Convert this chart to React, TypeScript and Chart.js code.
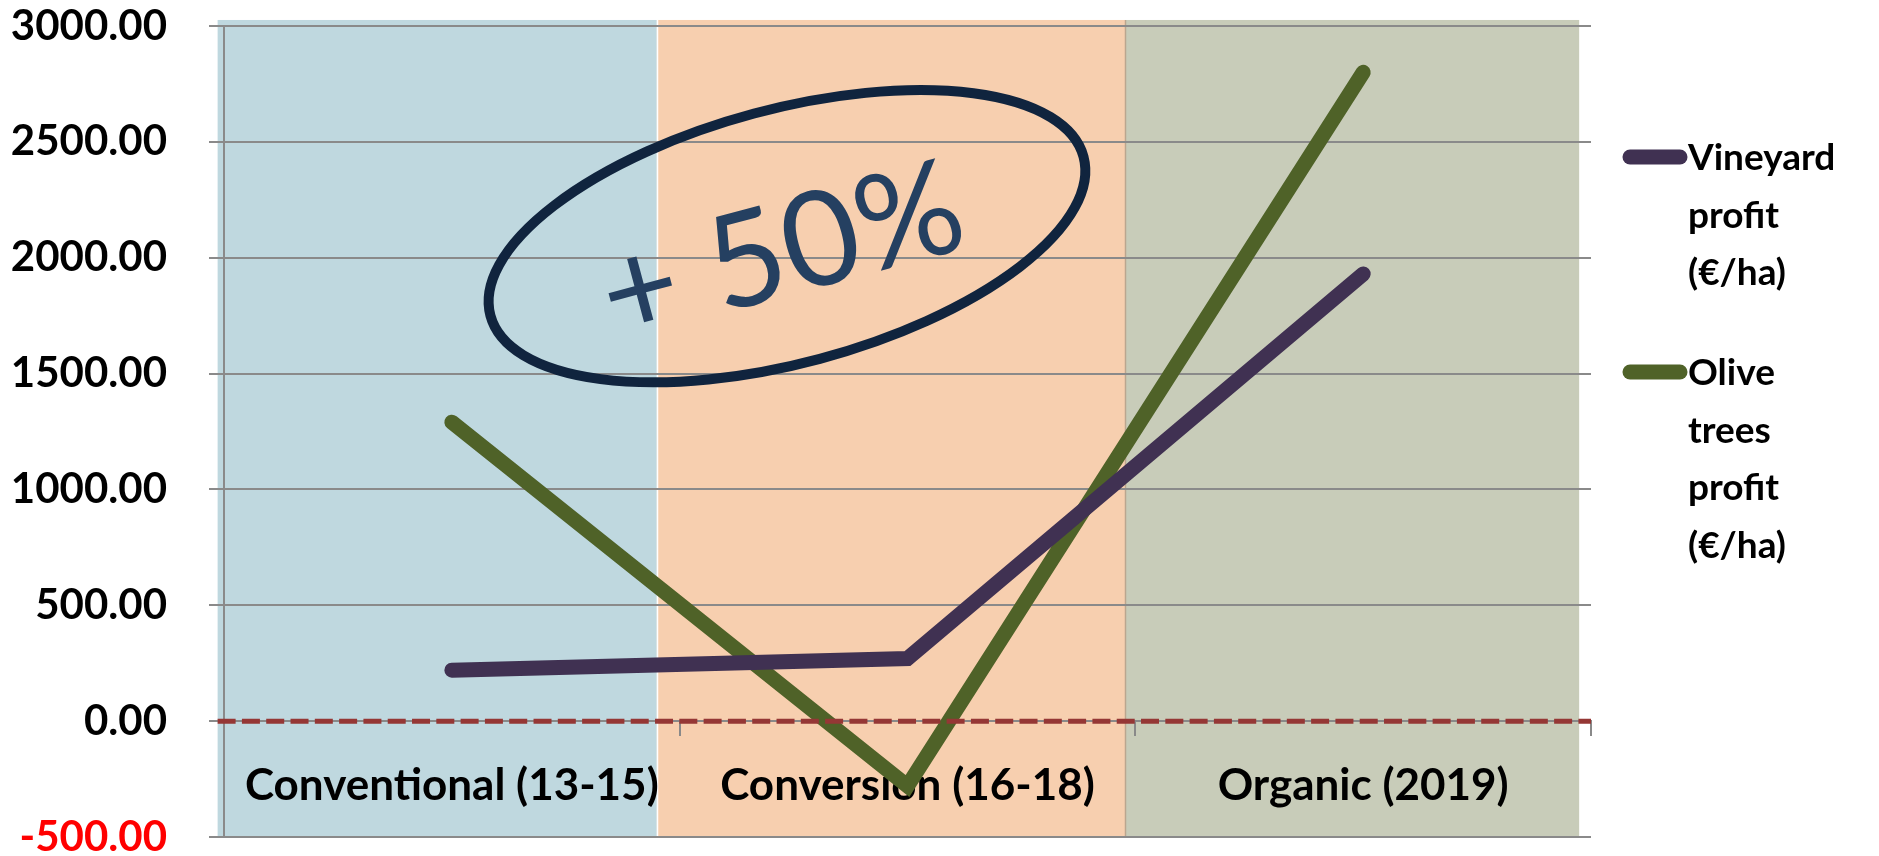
import React, { useEffect, useRef } from 'react';
import { Chart, registerables } from 'chart.js';

Chart.register(...registerables);

// ---- data ----
const categories = ['Conventional (13-15)', 'Conversion (16-18)', 'Organic (2019)'];
const vineyardProfit = [220, 270, 1930];
const oliveProfit = [1290, -280, 2800];
const seriesLabels = ['Vineyard profit (€/ha)', 'Olive trees profit (€/ha)'];
const seriesColors = ['#403152', '#4F6228'];
const yMin = -500;
const yMax = 3000;
const yStep = 500;

// background phases (in category units / value units)
const bandEdges = [-0.514, 0.45, 1.4775, 2.474];
const bandColors = ['#BFD8DF', '#F7CFAF', '#C8CCB9'];
const bandDividerColors = ['#FFFFFF', '#BBA68F'];
const bandTop = 3026;
const bandBottom = -500;

// annotation
const annotationText = '+ 50%';
const ellipseCenter = [0.7355, 2093];
const textCenter = [0.7245, 2020];

const FONT = 'Lato, "Open Sans", sans-serif';

const bandsPlugin = {
  id: 'bands',
  beforeDraw(chart: any) {
    const { ctx, scales } = chart;
    const x = scales.x;
    const y = scales.y;
    const top = y.getPixelForValue(bandTop);
    const bottom = y.getPixelForValue(bandBottom);
    ctx.save();
    for (let i = 0; i < bandColors.length; i++) {
      const l = x.getPixelForValue(bandEdges[i]);
      const r = x.getPixelForValue(bandEdges[i + 1]);
      ctx.fillStyle = bandColors[i];
      ctx.fillRect(l, top, r - l, bottom - top);
    }
    for (let i = 0; i < bandDividerColors.length; i++) {
      const px = Math.round(x.getPixelForValue(bandEdges[i + 1])) + 0.5;
      ctx.strokeStyle = bandDividerColors[i];
      ctx.lineWidth = 1.5;
      ctx.beginPath();
      ctx.moveTo(px, top);
      ctx.lineTo(px, bottom);
      ctx.stroke();
    }
    ctx.restore();
  },
};

const overlayPlugin = {
  id: 'overlay',
  afterDatasetsDraw(chart: any) {
    const { ctx, chartArea, scales } = chart;
    const x = scales.x;
    const y = scales.y;
    ctx.save();
    // zero reference line
    const y0 = y.getPixelForValue(0);
    ctx.strokeStyle = '#953735';
    ctx.lineWidth = 5;
    ctx.setLineDash([18, 6.3]);
    ctx.beginPath();
    ctx.moveTo(x.getPixelForValue(bandEdges[0]), y0);
    ctx.lineTo(chartArea.right, y0);
    ctx.stroke();
    ctx.setLineDash([]);

    // ellipse
    const ex = x.getPixelForValue(ellipseCenter[0]);
    const ey = y.getPixelForValue(ellipseCenter[1]);
    ctx.strokeStyle = '#10243E';
    ctx.lineWidth = 10;
    ctx.beginPath();
    ctx.ellipse(ex, ey, 307, 127, (-15 * Math.PI) / 180, 0, Math.PI * 2);
    ctx.stroke();

    // text
    const tx = x.getPixelForValue(textCenter[0]);
    const ty = y.getPixelForValue(textCenter[1]);
    ctx.translate(tx, ty);
    ctx.rotate((-15 * Math.PI) / 180);
    ctx.font = `132px ${FONT}`;
    ctx.fillStyle = '#254061';
    ctx.textAlign = 'center';
    ctx.textBaseline = 'middle';
    ctx.fillText(annotationText, 0, 0);
    ctx.restore();
  },
};

const legendPlugin = {
  id: 'sideLegend',
  afterDraw(chart: any) {
    const { ctx, chartArea } = chart;
    const sampleLeft = chartArea.right + 32;
    const sampleLen = 64;
    const textX = chartArea.right + 97;
    const maxW = 150;
    const lineH = 57.5;
    const itemGap = 42.5;
    let baseline = chartArea.top + 144;
    ctx.save();
    ctx.font = `bold 37px ${FONT}`;
    ctx.textAlign = 'left';
    ctx.textBaseline = 'alphabetic';
    chart.data.datasets.forEach((ds: any) => {
      const words = String(ds.label).split(' ');
      const lines: string[] = [];
      let cur = '';
      words.forEach((w) => {
        const test = cur ? cur + ' ' + w : w;
        if (cur && ctx.measureText(test).width > maxW) {
          lines.push(cur);
          cur = w;
        } else {
          cur = test;
        }
      });
      if (cur) lines.push(cur);
      ctx.strokeStyle = ds.borderColor;
      ctx.lineWidth = 15;
      ctx.lineCap = 'round';
      ctx.beginPath();
      ctx.moveTo(sampleLeft + 7, baseline - 13);
      ctx.lineTo(sampleLeft + sampleLen - 7, baseline - 13);
      ctx.stroke();
      ctx.fillStyle = '#000000';
      lines.forEach((ln, i) => {
        ctx.fillText(ln, textX, baseline + i * lineH);
      });
      baseline += lines.length * lineH + itemGap;
    });
    ctx.restore();
  },
};

export default function App() {
  const canvasRef = useRef<HTMLCanvasElement | null>(null);

  useEffect(() => {
    if (!canvasRef.current) return;
    const chart = new Chart(canvasRef.current, {
      type: 'line',
      data: {
        labels: categories,
        datasets: [
          {
            label: seriesLabels[0],
            data: vineyardProfit,
            borderColor: seriesColors[0],
            backgroundColor: seriesColors[0],
            borderWidth: 15,
            borderCapStyle: 'round',
            borderJoinStyle: 'miter',
            pointRadius: 0,
            tension: 0,
          },
          {
            label: seriesLabels[1],
            data: oliveProfit,
            borderColor: seriesColors[1],
            backgroundColor: seriesColors[1],
            borderWidth: 15,
            borderCapStyle: 'round',
            borderJoinStyle: 'miter',
            pointRadius: 0,
            tension: 0,
          },
        ],
      },
      options: {
        animation: false,
        responsive: true,
        maintainAspectRatio: false,
        layout: { padding: { top: 26, right: 288, bottom: 19, left: 0 } },
        plugins: {
          legend: { display: false },
          tooltip: { enabled: false },
        },
        scales: {
          x: {
            type: 'category',
            position: { y: 0 } as any,
            offset: true,
            grid: {
              offset: true,
              drawOnChartArea: false,
              drawTicks: true,
              tickLength: 14,
              color: '#898989',
              lineWidth: 2,
            },
            border: { display: true, color: '#898989', width: 2 },
            ticks: {
              color: '#000000',
              font: { family: FONT, size: 44, weight: 'bold' },
              padding: 24,
              maxRotation: 0,
              autoSkip: false,
            },
            afterFit: (s: any) => {
              s.height = 0;
            },
          },
          y: {
            min: yMin,
            max: yMax,
            grid: {
              color: '#8A8A8A',
              lineWidth: 2,
              drawTicks: true,
              tickLength: 15,
            },
            border: { display: true, color: '#8A8A8A', width: 2 },
            ticks: {
              stepSize: yStep,
              padding: 42,
              font: { family: FONT, size: 42, weight: 'bold', lineHeight: 0.85 },
              color: (c: any) => (c.tick && c.tick.value < 0 ? '#FF0000' : '#000000'),
              callback: (v: any) => Number(v).toFixed(2),
            },
            afterFit: (s: any) => {
              s.width = 224;
              s.paddingTop = 0;
              s.paddingBottom = 0;
            },
          },
        },
      },
      plugins: [bandsPlugin, overlayPlugin, legendPlugin],
    } as any);

    if ((document as any).fonts && (document as any).fonts.load) {
      Promise.all([
        (document as any).fonts.load(`bold 40px Lato`),
        (document as any).fonts.load(`132px Lato`),
      ])
        .then(() => chart.update())
        .catch(() => {});
    }

    return () => chart.destroy();
  }, []);

  return (
    <div style={{ position: 'absolute', left: 0, top: 0, width: 1879, height: 856, background: '#FFFFFF' }}>
      <canvas ref={canvasRef} />
    </div>
  );
}
